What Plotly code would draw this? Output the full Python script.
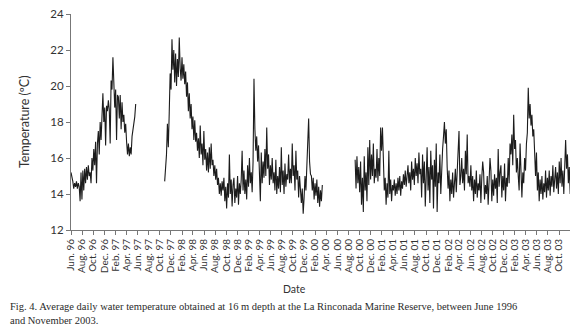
import pandas as pd
import plotly.graph_objects as go

step_days = 5

seg1_start = "1996-06-01"
seg1_temps = [15.2, 15.0, 14.7, 14.3, 14.6, 14.4, 14.7, 14.3, 14.6, 14.4, 13.6, 15.2, 13.7, 15.3,
              14.2, 15.4, 14.6, 15.5, 14.8, 15.6, 15.0, 15.2, 14.6, 16.0, 15.3, 16.5, 15.6, 16.9,
              14.6, 16.8, 17.5, 16.2, 18.0, 17.0, 18.2, 19.6, 18.0, 18.8, 16.7, 18.9, 18.6, 19.2,
              18.7, 16.8, 20.3, 19.8, 21.6, 20.0, 18.8, 19.8, 17.0, 19.5, 19.4, 18.2, 19.5, 17.6,
              19.1, 18.0, 18.4, 17.4, 17.9, 16.9, 16.2, 16.8, 16.1, 16.6, 16.2, 17.2, 17.5, 17.9,
              18.3, 19.0]

seg2_start = "1997-10-28"
seg2_temps = [14.7, 15.5, 16.2, 17.9, 16.6, 18.5, 20.7, 19.8, 22.6, 20.9, 22.0,
              20.2, 21.8, 20.0, 21.5, 20.5, 22.7, 21.0, 20.3, 21.6, 20.4, 21.2, 20.1,
              20.8, 19.4, 20.2, 18.6, 19.6, 18.2, 19.0, 17.6, 18.3, 17.0, 18.1, 16.9, 17.4,
              16.4, 17.1, 16.0, 17.8, 16.2, 16.8, 15.6, 17.5, 15.9, 16.5, 15.3,
              16.3, 15.2, 16.6, 15.4, 16.8, 15.6, 15.9, 15.0, 15.6, 14.8, 15.4,
              14.5, 14.9, 14.0, 14.6, 13.9, 14.7, 14.2,
              14.9, 13.6, 14.4, 13.2, 14.6, 13.8, 16.2, 14.0, 14.8, 13.3, 14.5,
              14.9, 13.5, 14.3, 13.8, 15.0, 13.4, 14.6, 14.0, 14.8, 16.4, 14.2,
              15.3, 14.0, 14.8, 13.7, 15.6, 14.4, 16.0, 14.6, 15.2, 14.1, 15.8,
              20.4,
              17.6, 16.4, 17.2, 15.8, 16.7, 15.2, 13.6,
              16.3, 14.6, 15.8, 14.9, 16.5, 15.0, 17.7, 15.4, 16.2, 14.5, 15.6, 14.8, 16.0, 14.6,
              15.2, 14.2, 15.9, 14.0, 15.0, 14.3, 15.5, 14.1, 16.6, 14.5, 15.3, 14.0, 15.7, 14.4,
              15.1, 14.8, 16.2, 14.6, 15.4,
              14.6, 16.8, 15.0, 15.6, 14.2, 16.4, 14.8, 15.3, 13.8, 15.0, 14.1,
              13.5, 14.3, 12.9, 13.8, 15.0, 14.2,
              16.0, 17.0, 18.2, 15.8, 15.1,
              15.0, 14.2, 14.9, 13.7, 14.6, 13.9, 14.8, 13.5, 14.4, 13.3, 14.2, 13.6, 14.5]

seg3_start = "2000-09-07"
seg3_temps = [15.9, 14.3, 16.1, 14.6, 15.5, 14.1,
              15.8, 13.4, 14.9, 13.0, 16.1, 14.2, 15.2, 13.6,
              16.6, 14.5, 17.0, 14.8, 16.2, 15.0, 16.8, 14.6, 15.4, 14.9, 16.5,
              14.7, 16.0, 15.0, 17.7, 16.4, 17.7,
              15.6, 14.2, 14.9, 13.4, 14.6, 13.8, 16.4, 14.0, 14.8, 13.6, 14.5,
              14.2, 14.8, 13.9, 14.6, 14.0, 14.9, 14.2, 15.0, 13.9, 14.7, 14.3, 15.1, 14.5, 15.3,
              14.4, 15.0,
              15.6, 14.6, 15.2, 14.2, 15.8, 14.8, 15.4, 14.5, 16.0, 15.0, 15.7, 14.6, 16.3, 15.1,
              15.4, 13.8, 16.2, 14.6, 15.8, 13.3, 15.0, 16.6, 14.2, 15.5, 13.5, 16.4, 14.8, 15.6,
              13.2, 15.9, 14.4, 16.8, 13.0, 15.2, 14.6, 16.2, 14.0, 15.8,
              16.5, 17.2, 18.0, 16.8, 17.6, 15.5,
              14.3, 15.3, 13.6, 14.8, 14.0, 15.2, 13.8, 14.6, 15.4, 14.1, 15.0,
              16.2, 17.5, 14.5, 15.0, 16.0, 14.6, 15.4, 14.2, 16.4, 15.1, 17.3, 14.6, 15.0, 14.4,
              15.6,
              14.2, 15.0, 13.6, 14.8, 14.0, 15.3, 13.8, 14.6, 14.2, 15.1, 13.5, 14.9, 15.8, 15.2,
              13.7, 14.5, 14.0, 15.0, 13.4, 14.7, 16.0, 15.3, 13.6, 14.8, 13.9, 15.1, 14.3, 14.9,
              13.5, 16.5, 14.4, 15.2,
              15.6, 13.8, 15.0, 14.2, 15.7, 13.6, 14.9, 14.4, 16.0, 14.6, 16.8,
              16.2, 17.3, 15.6, 18.4, 16.5, 17.0, 15.2, 16.0,
              15.0, 14.2, 16.8, 15.4, 13.8, 15.2, 14.6, 16.0, 15.3, 16.8, 17.4,
              19.9, 18.2, 19.0, 17.8, 18.4, 17.2, 17.6, 16.5,
              15.0, 16.3, 14.2, 15.2, 13.6, 14.8, 14.0, 15.0, 13.7, 14.6, 14.1, 15.3, 13.8,
              14.9, 14.2, 15.3, 13.9, 15.0, 14.4, 15.6, 14.1, 14.8, 15.5, 14.3, 15.2, 14.0, 15.8,
              14.6, 16.0, 14.4, 15.3, 14.0, 15.1, 17.0, 15.4, 16.2, 14.6, 15.5, 14.0]

segments = [(seg1_start, seg1_temps), (seg2_start, seg2_temps), (seg3_start, seg3_temps)]

y_ticks = [12, 14, 16, 18, 20, 22, 24]
x_title = "Date"
y_title = "Temperature (ºC)"
caption = ("Fig. 4. Average daily water temperature obtained at 16 m depth at the La Rinconada "
           "Marine Reserve, between June 1996<br>and November 2003.")

fig = go.Figure()
for start, temps in segments:
    dates = pd.date_range(start=start, periods=len(temps), freq=f"{step_days}D")
    fig.add_trace(go.Scatter(x=dates, y=temps, mode="lines",
                             line=dict(color="#1c1c1c", width=1.1), showlegend=False,
                             hoverinfo="skip"))

# page has an 8px body margin, so the figure is 8px smaller than the window
OFF = 8
W, H = 580 - OFF, 336 - OFF
L, R, T, B = 71 - OFF, 10, 14 - OFF, 106
pw = W - L - R
ph = H - T - B

def py(p):
    return (H - B - (p - OFF)) / ph

def px(p):
    return ((p - OFF) - L) / pw

fig.update_layout(
    width=W, height=H,
    margin=dict(l=L, r=R, t=T, b=B, pad=0),
    paper_bgcolor="white", plot_bgcolor="white",
    font=dict(family="Lato, Open Sans, sans-serif", color="#333333"),
    xaxis=dict(type="date", range=["1996-06-01", "2003-11-30"],
               tick0="1996-06-01", dtick="M2", tickformat="%b. %y",
               tickangle=-90, tickfont=dict(size=10, color="#333333"),
               ticks="outside", ticklen=4, tickcolor="#777777", tickwidth=1,
               showline=True, linecolor="#777777", linewidth=1,
               showgrid=False, zeroline=False, automargin=False,
               ticklabeloverflow="allow"),
    yaxis=dict(range=[12, 24], tickvals=y_ticks, ticktext=[str(v) for v in y_ticks],
               tickfont=dict(size=11.5, color="#333333"),
               ticks="outside", ticklen=4, tickcolor="#777777", tickwidth=1,
               showline=True, linecolor="#777777", linewidth=1,
               showgrid=False, zeroline=False, automargin=False,
               ticklabeloverflow="allow"),
    annotations=[
        dict(text=x_title, xref="paper", yref="paper", x=px(294), y=py(289),
             showarrow=False, font=dict(size=10.5, color="#333333"),
             xanchor="center", yanchor="middle"),
        dict(text=y_title, xref="paper", yref="paper", x=px(24), y=py(122),
             showarrow=False, textangle=-90, font=dict(size=12.5, color="#333333"),
             xanchor="center", yanchor="middle"),
        dict(text=caption, xref="paper", yref="paper", x=px(8), y=py(299),
             showarrow=False, align="left", xanchor="left", yanchor="top",
             font=dict(family="Liberation Serif, Times New Roman, serif", size=10.5,
                       color="#2a2a2a")),
    ],
)

fig.write_html("out.html")
